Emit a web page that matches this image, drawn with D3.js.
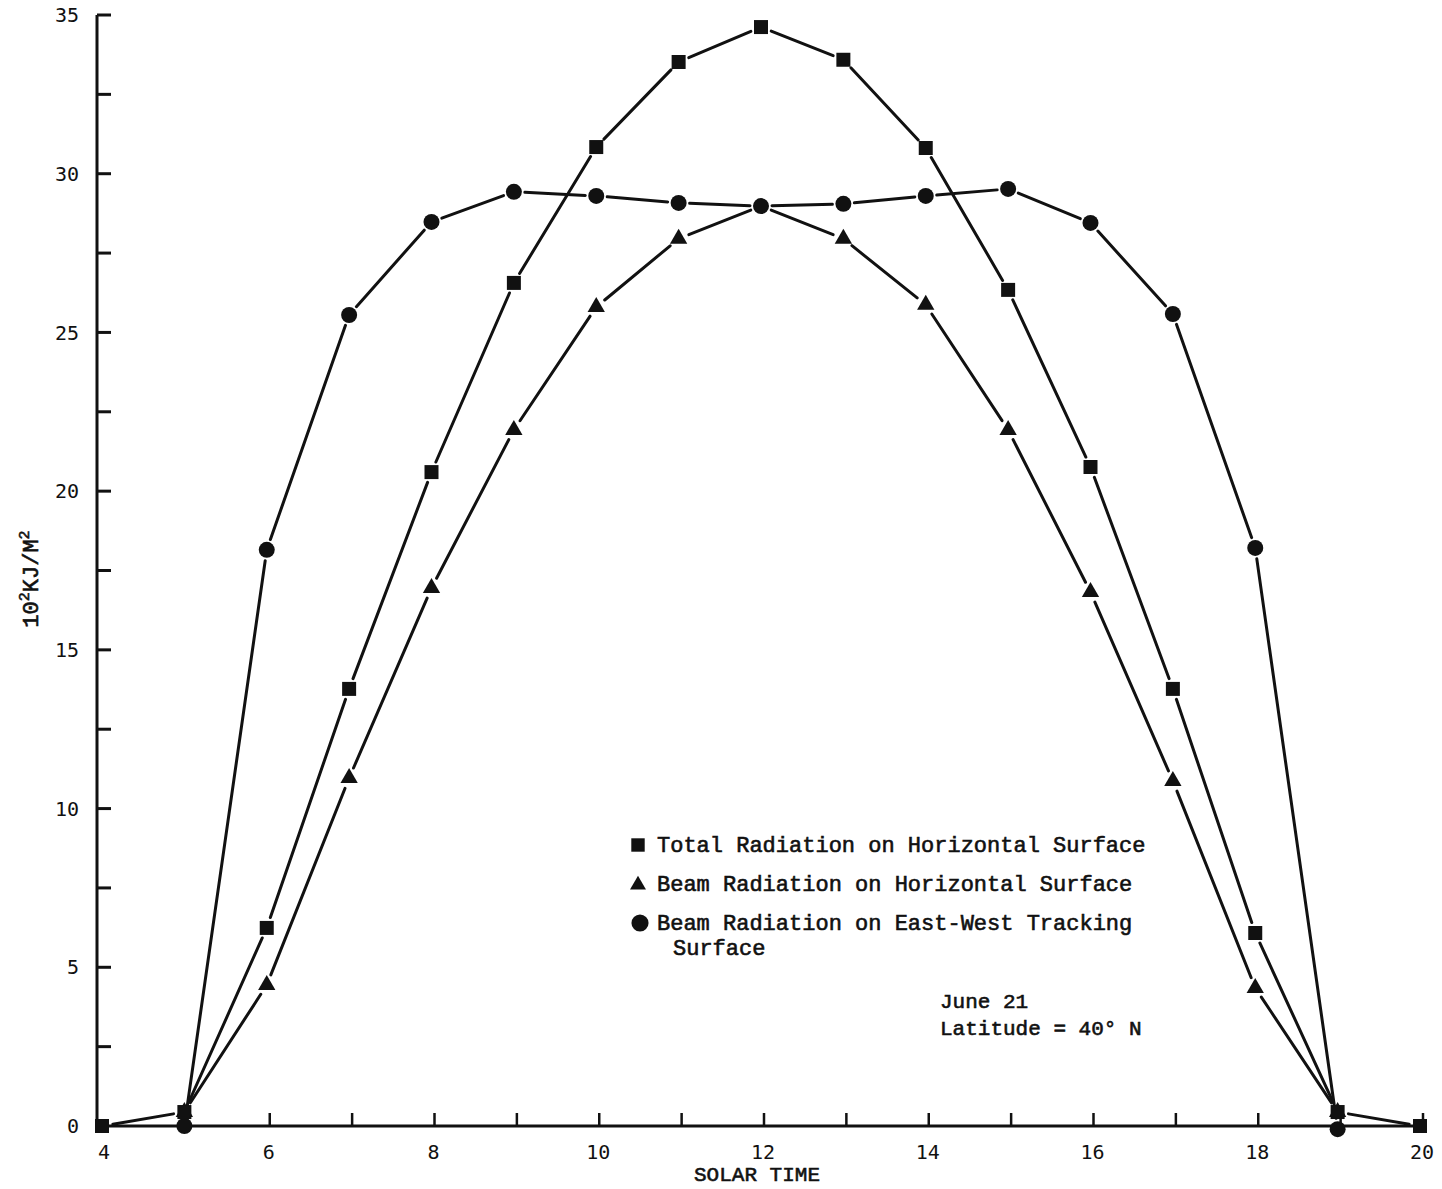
<!DOCTYPE html>
<html><head><meta charset="utf-8">
<script src="https://cdn.jsdelivr.net/npm/d3@7"></script>
<style>
html,body{margin:0;padding:0;background:#fff;}
svg{display:block;}
.mono{font-family:"Liberation Mono","Courier New",monospace;fill:#111;stroke:#111;stroke-width:0.6px;}
.tick{font-family:"DejaVu Sans Mono",monospace;fill:#111;}
</style>
</head><body>
<script>
// ---- data ----
const hours = [4,5,6,7,8,9,10,11,12,13,14,15,16,17,18,19,20];
const totalHorizontal = [0,0.44,6.24,13.77,20.6,26.56,30.84,33.52,34.62,33.59,30.81,26.34,20.76,13.77,6.08,0.44,0];
const beamHours = [5,6,7,8,9,10,11,12,13,14,15,16,17,18,19];
const beamHorizontal = [0.44,4.44,10.96,16.95,21.93,25.8,27.95,28.98,27.95,25.87,21.93,16.82,10.87,4.35,0.44];
const trackHours = [5,6,7,8,9,10,11,12,13,14,15,16,17,18,19];
const beamTracking = [0,18.15,25.55,28.48,29.43,29.3,29.08,28.98,29.05,29.3,29.52,28.45,25.58,18.21,-0.1];
const xTickLabels = [4,6,8,10,12,14,16,18,20];
const yTickLabels = [0,5,10,15,20,25,30,35];
const legendLabels = ["Total Radiation on Horizontal Surface","Beam Radiation on Horizontal Surface","Beam Radiation on East-West Tracking","Surface"];
const noteLines = ["June 21","Latitude = 40\u00B0 N"];

const W=1442,H=1189;
const svg=d3.select("body").append("svg").attr("width",W).attr("height",H);
const x=d3.scaleLinear().domain([4,20]).range([102,1420]);
const y=d3.scaleLinear().domain([0,35]).range([1126,15]);
const axisX=97;

// axes
const ax=svg.append("g").attr("stroke","#111").attr("stroke-width",3).attr("fill","none");
ax.append("line").attr("x1",axisX).attr("x2",axisX).attr("y1",y(35)).attr("y2",y(0)+1.5);
ax.append("line").attr("x1",axisX).attr("x2",x(20)+4).attr("y1",y(0)).attr("y2",y(0));
d3.range(2.5,35.01,2.5).forEach(v=>{
  ax.append("line").attr("x1",axisX).attr("x2",axisX+14).attr("y1",y(v)).attr("y2",y(v));
});
d3.range(5,21,1).forEach(h=>{
  ax.append("line").attr("x1",x(h)+3).attr("x2",x(h)+3).attr("y1",y(0)).attr("y2",y(0)-13).attr("stroke-width",2.5);
});

// tick labels
svg.selectAll(".yl").data(yTickLabels).enter().append("text").attr("class","tick")
  .attr("x",79).attr("y",d=>y(d)).attr("dy","0.36em").attr("text-anchor","end")
  .attr("font-size",20).text(d=>d);
svg.selectAll(".xl").data(xTickLabels).enter().append("text").attr("class","tick")
  .attr("x",d=>x(d)+2).attr("y",1159).attr("text-anchor","middle")
  .attr("font-size",20).text(d=>d);

// axis titles
svg.append("text").attr("class","mono").attr("x",757).attr("y",1181).attr("text-anchor","middle")
  .attr("font-size",21).text("SOLAR TIME");
const yt=svg.append("text").attr("class","mono").attr("transform","translate(38,579) rotate(-90)")
  .attr("text-anchor","middle").attr("font-size",22);
yt.append("tspan").text("10");
yt.append("tspan").attr("font-size",15).attr("dy",-9).text("2");
yt.append("tspan").attr("dy",9).text("KJ/M");
yt.append("tspan").attr("font-size",15).attr("dy",-9).text("2");

// series lines with gaps near markers
function drawSeries(xs,vs,gap){
  const pts=xs.map((h,i)=>[x(h),y(vs[i])]);
  const g=svg.append("g").attr("stroke","#111").attr("stroke-width",3).attr("stroke-linecap","round");
  for(let i=0;i<pts.length-1;i++){
    const [x1,y1]=pts[i],[x2,y2]=pts[i+1];
    const dx=x2-x1,dy=y2-y1,L=Math.hypot(dx,dy);
    if(L<2*gap+2) continue;
    const ux=dx/L,uy=dy/L;
    g.append("line").attr("x1",x1+ux*gap).attr("y1",y1+uy*gap).attr("x2",x2-ux*gap).attr("y2",y2-uy*gap);
  }
  return pts;
}
drawSeries(hours,totalHorizontal,11);
drawSeries(beamHours,beamHorizontal,11);
drawSeries(trackHours,beamTracking,11);

const sq=d3.symbol().type(d3.symbolSquare).size(196);
const tri=d3.symbol().type(d3.symbolTriangle).size(130);
const cir=d3.symbol().type(d3.symbolCircle).size(201);

svg.append("g").selectAll("path").data(beamHours.map((h,i)=>[h,beamHorizontal[i]]).filter(d=>d[0]!==12)).enter()
  .append("path").attr("d",tri).attr("fill","#111")
  .attr("transform",d=>`translate(${x(d[0])},${y(d[1])})`);
svg.append("g").selectAll("path").data(trackHours.map((h,i)=>[h,beamTracking[i]])).enter()
  .append("path").attr("d",cir).attr("fill","#111")
  .attr("transform",d=>`translate(${x(d[0])},${y(d[1])})`);
svg.append("g").selectAll("path").data(hours.map((h,i)=>[h,totalHorizontal[i]])).enter()
  .append("path").attr("d",sq).attr("fill","#111")
  .attr("transform",d=>`translate(${x(d[0])},${y(d[1])})`);

// legend
const lg=svg.append("g");
lg.append("path").attr("d",d3.symbol().type(d3.symbolSquare).size(180)).attr("fill","#111").attr("transform","translate(638,845)");
lg.append("path").attr("d",d3.symbol().type(d3.symbolTriangle).size(110)).attr("fill","#111").attr("transform","translate(638,885)");
lg.append("path").attr("d",d3.symbol().type(d3.symbolCircle).size(230)).attr("fill","#111").attr("transform","translate(640,923)");
const lx=[657,657,657,673], ly=[852,891,930,955];
legendLabels.forEach((t,i)=>{
  lg.append("text").attr("class","mono").attr("x",lx[i]).attr("y",ly[i]).attr("font-size",22).style("white-space","pre").text(t);
});
noteLines.forEach((t,i)=>{
  svg.append("text").attr("class","mono").attr("x",940).attr("y",1008+i*27).attr("font-size",21).style("white-space","pre").text(t);
});
</script>
</body></html>
